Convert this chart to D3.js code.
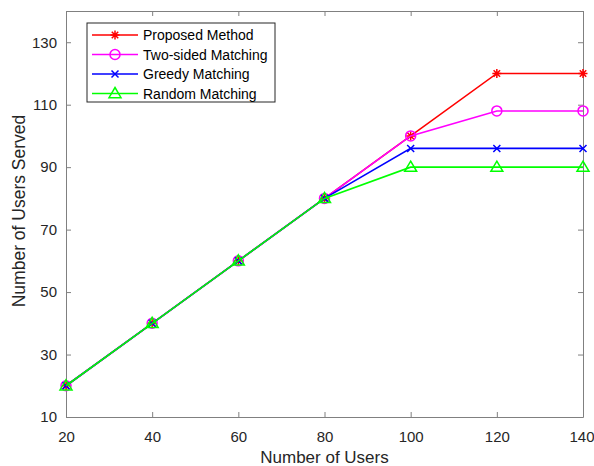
<!DOCTYPE html>
<html><head><meta charset="utf-8">
<script src="https://cdn.jsdelivr.net/npm/d3@7"></script>
<style>body{margin:0;background:#fff;} text{font-family:Arial,"Liberation Sans",sans-serif;}</style>
</head><body><svg id="c" width="594" height="466"></svg>
<script>
const users = [20, 40, 60, 80, 100, 120, 140];
const proposed = [20, 40, 60, 80, 100, 120, 120];
const twoSided = [20, 40, 60, 80, 100, 108, 108];
const greedy = [20, 40, 60, 80, 96, 96, 96];
const random = [20, 40, 60, 80, 90, 90, 90];
const xTicks = [20, 40, 60, 80, 100, 120, 140];
const yTicks = [10, 30, 50, 70, 90, 110, 130];
const seriesNames = ["Proposed Method", "Two-sided Matching", "Greedy Matching", "Random Matching"];
const seriesColors = ["#ff0000", "#ff00ff", "#0000ff", "#00ff00"];
const seriesMarkers = ["star", "circle", "x", "triangle"];
const seriesData = [proposed, twoSided, greedy, random];

const svg = d3.select("#c");
const L = 66, R = 583, T = 11, B = 417;
const x = d3.scaleLinear().domain([20, 140]).range([L, R]);
const y = d3.scaleLinear().domain([10, 140]).range([B, T]);
const axisColor = "#808080", textColor = "#262626";

function styleAxis(g, hideText) {
  g.selectAll(".domain").attr("stroke", axisColor);
  g.selectAll(".tick line").attr("stroke", axisColor);
  g.selectAll(".tick text").attr("fill", textColor).style("font-size", "15px");
  if (hideText) g.selectAll(".tick text").remove();
}
svg.append("g").attr("transform", `translate(0,${B})`)
  .call(d3.axisBottom(x).tickValues(xTicks).tickSizeInner(-5).tickSizeOuter(0).tickPadding(14))
  .call(g => styleAxis(g))
  .call(g => g.selectAll(".tick text").filter(d => d === 140).attr("text-anchor", "end").attr("x", 11));
svg.append("g").attr("transform", `translate(0,${T})`)
  .call(d3.axisTop(x).tickValues(xTicks).tickSizeInner(-5).tickSizeOuter(0))
  .call(g => styleAxis(g, true));
svg.append("g").attr("transform", `translate(${L},0)`)
  .call(d3.axisLeft(y).tickValues(yTicks).tickSizeInner(-5).tickSizeOuter(0).tickPadding(9))
  .call(g => styleAxis(g));
svg.append("g").attr("transform", `translate(${R},0)`)
  .call(d3.axisRight(y).tickValues(yTicks).tickSizeInner(-5).tickSizeOuter(0))
  .call(g => styleAxis(g, true));

function drawMarker(g, type, color, cx, cy) {
  const s = 5;
  if (type === "circle") {
    g.append("circle").attr("cx", cx).attr("cy", cy).attr("r", s).attr("fill", "none").attr("stroke", color).attr("stroke-width", 1.5);
  } else if (type === "x") {
    g.append("path").attr("d", `M${cx-3.5},${cy-3.5}L${cx+3.5},${cy+3.5}M${cx-3.5},${cy+3.5}L${cx+3.5},${cy-3.5}`).attr("stroke", color).attr("stroke-width", 1.5);
  } else if (type === "star") {
    const r = 4.5, d = r * 0.72;
    g.append("path").attr("d", `M${cx-r},${cy}L${cx+r},${cy}M${cx},${cy-r}L${cx},${cy+r}M${cx-d},${cy-d}L${cx+d},${cy+d}M${cx-d},${cy+d}L${cx+d},${cy-d}`).attr("stroke", color).attr("stroke-width", 1.5);
  } else if (type === "triangle") {
    const h = 6;
    g.append("path").attr("d", `M${cx},${cy-h}L${cx+h},${cy+h*0.7}L${cx-h},${cy+h*0.7}Z`).attr("fill", "none").attr("stroke", color).attr("stroke-width", 1.5);
  }
}

const line = d3.line().x((d, i) => x(users[i])).y(d => y(d));
seriesData.forEach((data, k) => {
  const g = svg.append("g");
  g.append("path").datum(data).attr("d", line).attr("fill", "none").attr("stroke", seriesColors[k]).attr("stroke-width", 1.6);
  data.forEach((v, i) => drawMarker(g, seriesMarkers[k], seriesColors[k], x(users[i]), y(v)));
});

// legend
const lg = svg.append("g");
lg.append("rect").attr("x", 87).attr("y", 23).attr("width", 188).attr("height", 79).attr("fill", "#fff").attr("stroke", "#262626").attr("stroke-width", 1);
seriesNames.forEach((n, k) => {
  const yy = 35 + k * 19.5;
  lg.append("line").attr("x1", 92).attr("x2", 138).attr("y1", yy).attr("y2", yy).attr("stroke", seriesColors[k]).attr("stroke-width", 1.6);
  drawMarker(lg, seriesMarkers[k], seriesColors[k], 115, yy);
  lg.append("text").attr("x", 143).attr("y", yy + 5).text(n).style("font-size", "14px").attr("fill", "#000");
});

svg.append("text").attr("x", (L + R) / 2).attr("y", 463).attr("text-anchor", "middle").style("font-size", "17px").attr("fill", textColor).text("Number of Users");
svg.append("text").attr("transform", `translate(25,${(T + B) / 2 - 3}) rotate(-90)`).attr("text-anchor", "middle").style("font-size", "17.5px").attr("fill", textColor).text("Number of Users Served");
</script></body></html>
